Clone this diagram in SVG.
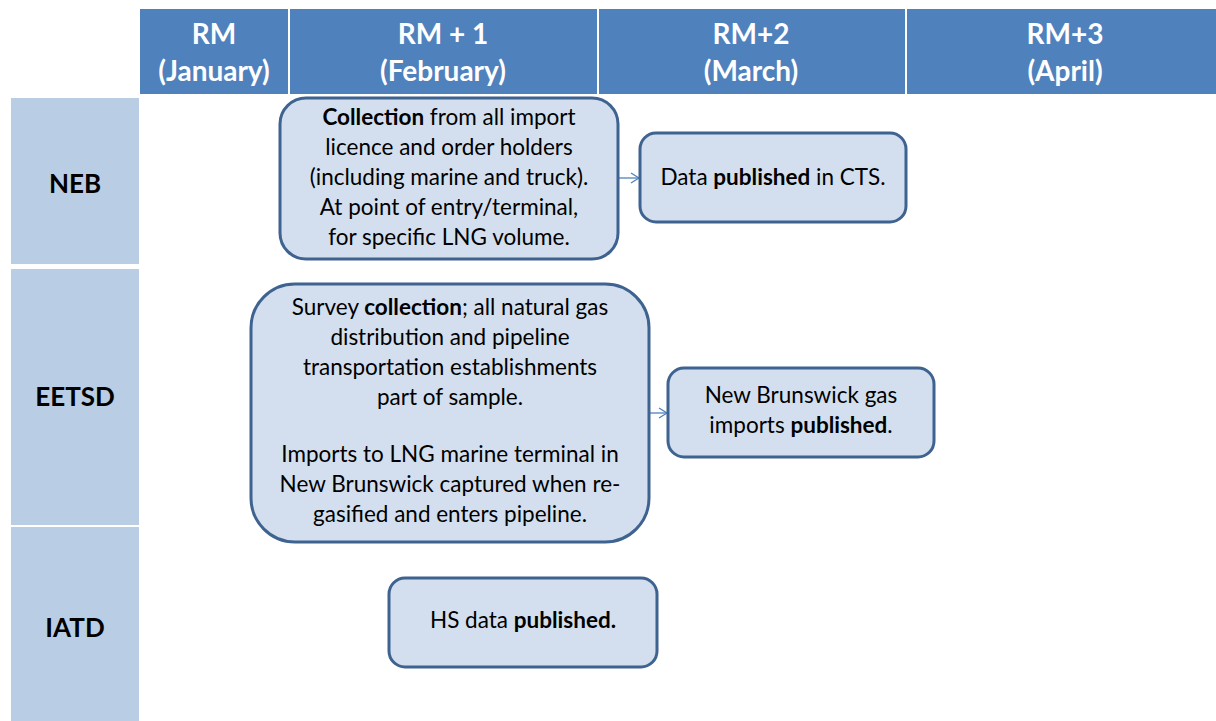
<svg xmlns="http://www.w3.org/2000/svg" width="1216" height="721" viewBox="0 0 1216 721">
<style>
.hdr{fill:#4F81BD}
.lane{fill:#B9CDE5}
.ht{font-family:Lato,"Open Sans",sans-serif;font-weight:bold;font-size:28px;fill:#FFFFFF;text-anchor:middle}
.lt{font-family:Lato,"Open Sans",sans-serif;font-weight:bold;font-size:26px;fill:#000000;text-anchor:middle}
.box{fill:#D3DFEE;stroke:#3F6391;stroke-width:3}
.bt{font-family:Lato,"Open Sans",sans-serif;font-size:22.5px;fill:#000000;text-anchor:middle}
.b{font-weight:bold}
.conn{stroke:#4F81BD;stroke-width:1.3;fill:none}
</style>
<defs>
<marker id="arr" markerWidth="12" markerHeight="12" refX="10" refY="6" orient="auto" markerUnits="userSpaceOnUse">
<path d="M2,1 L10,6 L2,11" fill="none" stroke="#4F81BD" stroke-width="1.3"/>
</marker>
</defs>
<rect width="1216" height="721" fill="#FFFFFF"/>
<g id="header">
<rect class="hdr" x="140" y="9" width="1076" height="85"/>
<line x1="289" y1="9" x2="289" y2="94" stroke="#FFFFFF" stroke-width="2"/>
<line x1="598" y1="9" x2="598" y2="94" stroke="#FFFFFF" stroke-width="2"/>
<line x1="906" y1="9" x2="906" y2="94" stroke="#FFFFFF" stroke-width="2"/>
<text class="ht" x="214" y="44">RM</text>
<text class="ht" x="214" y="81">(January)</text>
<text class="ht" x="443" y="44">RM + 1</text>
<text class="ht" x="443" y="81">(February)</text>
<text class="ht" x="751" y="44">RM+2</text>
<text class="ht" x="751" y="81">(March)</text>
<text class="ht" x="1065" y="44">RM+3</text>
<text class="ht" x="1065" y="81">(April)</text>
</g>
<g id="lane-neb">
<rect class="lane" x="11" y="98" width="128" height="166"/>
<text class="lt" x="75" y="193">NEB</text>
</g>
<g id="lane-eetsd">
<rect class="lane" x="11" y="269" width="128" height="256"/>
<text class="lt" x="75" y="406">EETSD</text>
</g>
<g id="lane-iatd">
<rect class="lane" x="11" y="527" width="128" height="194"/>
<text class="lt" x="75" y="637">IATD</text>
</g>
<g id="connectors">
<line class="conn" x1="619" y1="178" x2="639" y2="178" marker-end="url(#arr)"/>
<line class="conn" x1="650" y1="413" x2="667" y2="413" marker-end="url(#arr)"/>
</g>
<g id="node-neb-collection">
<rect class="box" x="280" y="98" width="338" height="161" rx="26"/>
<text class="bt" x="449" y="125"><tspan class="b">Collection</tspan> from all import</text>
<text class="bt" x="449" y="155">licence and order holders</text>
<text class="bt" x="449" y="185">(including marine and truck).</text>
<text class="bt" x="449" y="215">At point of entry/terminal,</text>
<text class="bt" x="449" y="245">for specific LNG volume.</text>
</g>
<g id="node-neb-published">
<rect class="box" x="640" y="133" width="266" height="89" rx="16"/>
<text class="bt" x="773" y="185">Data <tspan class="b">published</tspan> in CTS.</text>
</g>
<g id="node-eetsd-collection">
<rect class="box" x="251" y="284" width="398" height="258" rx="44"/>
<text class="bt" x="450" y="315">Survey <tspan class="b">collection</tspan>; all natural gas</text>
<text class="bt" x="450" y="345">distribution and pipeline</text>
<text class="bt" x="450" y="375">transportation establishments</text>
<text class="bt" x="450" y="405">part of sample.</text>
<text class="bt" x="450" y="462">Imports to LNG marine terminal in</text>
<text class="bt" x="450" y="492">New Brunswick captured when re-</text>
<text class="bt" x="450" y="522">gasified and enters pipeline.</text>
</g>
<g id="node-eetsd-published">
<rect class="box" x="668" y="368" width="266" height="89" rx="16"/>
<text class="bt" x="801" y="403">New Brunswick gas</text>
<text class="bt" x="801" y="433">imports <tspan class="b">published</tspan>.</text>
</g>
<g id="node-iatd-published">
<rect class="box" x="389" y="578" width="268" height="89" rx="16"/>
<text class="bt" x="523" y="628">HS data <tspan class="b">published.</tspan></text>
</g>
</svg>
